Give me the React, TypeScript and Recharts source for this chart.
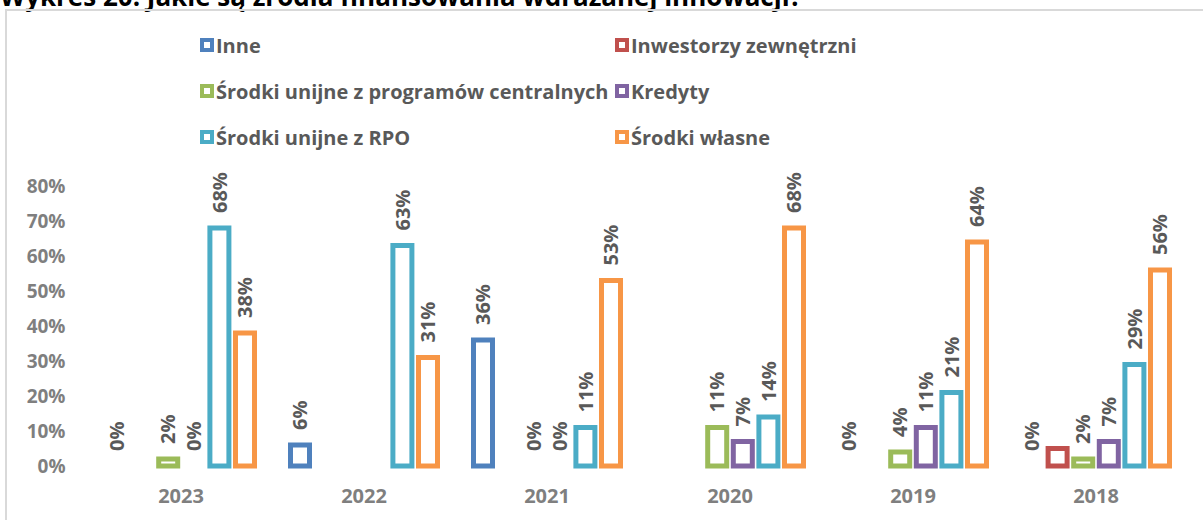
import React from "react";
import { BarChart, Bar, XAxis, YAxis } from "recharts";

const years = ["2023", "2022", "2021", "2020", "2019", "2018"];
const inne = [0, 6, 36, null, 0, 0];
const inwestorzy = [null, null, null, null, null, 5];
const unijneCentralne = [2, null, 0, 11, 4, 2];
const kredyty = [0, null, 0, 7, 11, 7];
const unijneRpo = [68, 63, 11, 14, 21, 29];
const wlasne = [38, 31, 53, 68, 64, 56];
const yTicks = [0, 10, 20, 30, 40, 50, 60, 70, 80];

const series = [
  { key: "inne", name: "Inne", color: "#4F81BD", values: inne, labels: true },
  { key: "inwestorzy", name: "Inwestorzy zewnętrzni", color: "#C0504D", values: inwestorzy, labels: false },
  { key: "centralne", name: "Środki unijne z programów centralnych", color: "#9BBB59", values: unijneCentralne, labels: true },
  { key: "kredyty", name: "Kredyty", color: "#8064A2", values: kredyty, labels: true },
  { key: "rpo", name: "Środki unijne z RPO", color: "#4BACC6", values: unijneRpo, labels: true },
  { key: "wlasne", name: "Środki własne", color: "#F79646", values: wlasne, labels: true },
];

const data = years.map((year, i) => {
  const row: Record<string, string | number | null> = { year };
  series.forEach((s) => (row[s.key] = s.values[i]));
  return row;
});

const FONT = "'Open Sans', sans-serif";

// hollow bar + rotated value label; zero values keep the label but draw no box
function makeShape(key: string, color: string, showLabel: boolean) {
  return (props: any) => {
    const { x, y, width, height, payload } = props;
    const v = payload ? payload[key] : null;
    if (v == null) return <g />;
    const cx = Number(x) + Number(width) / 2;
    const ty = Number(y) - 15;
    return (
      <g>
        {v > 0 && (
          <rect x={x} y={y} width={width} height={height} fill="#fff" stroke={color} strokeWidth={5} />
        )}
        {showLabel && (
          <text
            x={cx}
            y={ty}
            dy="0.36em"
            transform={`rotate(-90, ${cx}, ${ty})`}
            textAnchor="start"
            fill="#595959"
            fontFamily={FONT}
            fontWeight={700}
            fontSize={20}
          >
            {`${v}%`}
          </text>
        )}
      </g>
    );
  };
}

function ChartLegend() {
  return (
    <div
      style={{
        position: "absolute",
        left: 200,
        top: 30,
        display: "grid",
        gridTemplateColumns: "415px 415px",
        gridAutoRows: "46px",
        fontFamily: FONT,
        fontWeight: 700,
        fontSize: 20,
        color: "#595959",
      }}
    >
      {series.map((s) => (
        <div key={s.key} style={{ display: "flex", alignItems: "center", height: 30 }}>
          <span
            style={{
              width: 14,
              height: 14,
              boxSizing: "border-box",
              border: `4px solid ${s.color}`,
              background: "#fff",
              marginRight: 2,
            }}
          />
          <span>{s.name}</span>
        </div>
      ))}
    </div>
  );
}

export default function App() {
  return (
    <div
      style={{
        position: "absolute",
        left: 0,
        top: 0,
        width: 1203,
        height: 520,
        overflow: "hidden",
        background: "#fff",
      }}
    >
      <svg width={1203} height={20} style={{ position: "absolute", left: 0, top: 0 }}>
        <text x={0} y={6} fontFamily={FONT} fontWeight={700} fontSize={26} fill="#000">
          Wykres 20. Jakie są źródła finansowania wdrażanej innowacji?
        </text>
      </svg>
      <div
        style={{
          position: "absolute",
          left: 5,
          top: 9,
          width: 1300,
          height: 600,
          border: "2px solid #D9D9D9",
        }}
      />
      <ChartLegend />
      <div style={{ position: "absolute", left: 0, top: 0 }}>
        <BarChart
          width={1203}
          height={520}
          data={data}
          margin={{ top: 186, right: 15.5, bottom: 0, left: 0 }}
          barSize={19}
          barGap={6.6}
        >
          <XAxis
            dataKey="year"
            height={54}
            axisLine={false}
            tickLine={false}
            tickSize={0}
            tickMargin={23}
            tick={{ fill: "#7F7F7F", fontFamily: FONT, fontWeight: 700, fontSize: 20 }}
          />
          <YAxis
            width={89.5}
            domain={[0, 80]}
            ticks={yTicks}
            axisLine={false}
            tickLine={false}
            tickSize={0}
            tickMargin={24}
            tickFormatter={(v) => `${v}%`}
            tick={{ fill: "#7F7F7F", fontFamily: FONT, fontWeight: 700, fontSize: 19 }}
          />
          {series.map((s) => (
            <Bar
              key={s.key}
              dataKey={s.key}
              name={s.name}
              fill="#fff"
              stroke={s.color}
              strokeWidth={5}
              minPointSize={0.01}
              shape={makeShape(s.key, s.color, s.labels)}
              isAnimationActive={false}
            />
          ))}
        </BarChart>
      </div>
    </div>
  );
}
